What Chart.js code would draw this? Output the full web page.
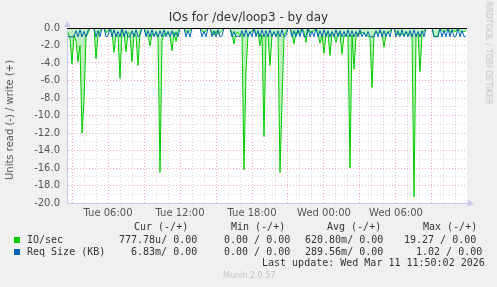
<!DOCTYPE html>
<html>
<head>
<meta charset="utf-8">
<script src="https://cdn.jsdelivr.net/npm/chart.js@4"></script>
<style>
body { margin:0; background:#f0f0f0; }
#wrap { position:relative; width:497px; height:287px; font-family:"DejaVu Sans", sans-serif; }
#wrap canvas { position:absolute; left:0; top:0; }
.t { position:absolute; white-space:pre; line-height:1; }
.mono { font-family:"DejaVu Sans Mono", monospace; font-size:10px; color:#333; }
.sq { position:absolute; width:6px; height:6px; }
</style>
</head>
<body>
<div id="wrap">
  <canvas id="myChart" width="497" height="287"></canvas>
  <div class="t" style="left:0;width:497px;text-align:center;top:11px;font-size:12px;color:#333;">IOs for /dev/loop3 - by day</div>
  <div class="t" style="left:10px;top:120px;font-size:10px;color:#555;transform:translate(-50%,-50%) rotate(-90deg);">Units read (-) / write (+)</div>
  <div class="t" style="left:488px;top:53px;font-size:8px;color:#c4c4c4;transform:translate(-50%,-50%) rotate(90deg);">RRDTOOL / TOBI OETIKER</div>

  <div class="t mono" style="left:134px;top:222px;">Cur (-/+)</div>
  <div class="t mono" style="left:231px;top:222px;">Min (-/+)</div>
  <div class="t mono" style="left:327px;top:222px;">Avg (-/+)</div>
  <div class="t mono" style="left:423px;top:222px;">Max (-/+)</div>

  <div class="sq" style="left:14px;top:237px;background:#00cc00;"></div>
  <div class="t mono" style="left:27px;top:235px;">IO/sec</div>
  <div class="t mono" style="left:119px;top:235px;">777.78u/ 0.00</div>
  <div class="t mono" style="left:224px;top:235px;">0.00 / 0.00</div>
  <div class="t mono" style="left:305px;top:235px;">620.80m/ 0.00</div>
  <div class="t mono" style="left:404px;top:235px;">19.27 / 0.00</div>

  <div class="sq" style="left:14px;top:249px;background:#0066b3;"></div>
  <div class="t mono" style="left:27px;top:247px;">Req Size (KB)</div>
  <div class="t mono" style="left:131px;top:247px;">6.83m/ 0.00</div>
  <div class="t mono" style="left:224px;top:247px;">0.00 / 0.00</div>
  <div class="t mono" style="left:305px;top:247px;">289.56m/ 0.00</div>
  <div class="t mono" style="left:410px;top:247px;"> 1.02 / 0.00</div>

  <div class="t mono" style="left:262px;top:258px;">Last update: Wed Mar 11 11:50:02 2026</div>
  <div class="t" style="left:223px;top:272px;font-size:8px;color:#c4c4c4;">Munin 2.0.57</div>
</div>
<script>
// time axis: hours counted from Tue 00:00, one sample every 10 minutes
let startHour = 2.667;
let stepHours = 1 / 6;
let xMin = 2.583, xMax = 35.917;
let tickHours = [6, 12, 18, 24, 30];
let tickLabels = ["Tue 06:00", "Tue 12:00", "Tue 18:00", "Wed 00:00", "Wed 06:00"];
let yTicks = [0, -2, -4, -6, -8, -10, -12, -14, -16, -18, -20];

// IO/sec (read side, plotted negative)
let ioRead = [
    0.5, 1.2, 4.1, 0.8, 1.5, 3.85, 2.0, 12.0, 8.4, 1.0,
    0.6, 0, 0, 0, 3.5, 0.8, 0.4, 0, 0, 0.5,
    0.4, 0, 0.5, 2.8, 0.7, 0.9, 5.75, 0.3, 0.6, 2.7,
    0.5, 0.8, 3.85, 0.6, 0.9, 4.3, 0.5, 0, 0, 0.6,
    0.9, 2.05, 0.7, 0.8, 0.6, 1.2, 16.5, 1.4, 0.8, 0.6,
    0.7, 0.9, 2.6, 0.5, 1.55, 0.4, 0, 0, 0, 0.5,
    0.4, 0.3, 0, 0, 0, 0, 0, 0.3, 0.5, 0.3,
    0, 0, 0.6, 0.8, 0.4, 0.7, 0.5, 0.3, 0, 0,
    0, 0, 0.7, 1.8, 0.6, 0.5, 0.9, 0.7, 16.2, 5.0,
    0.8, 0.6, 0.4, 0, 0.7, 0.5, 2.0, 0.8, 12.4, 0.9,
    0.7, 4.3, 0.8, 0.6, 0.9, 0.7, 16.5, 8.5, 0.8, 0.5,
    0, 0, 0.6, 1.8, 0.5, 0.7, 0.4, 0, 0.5, 1.65,
    0, 0.5, 0.4, 0.3, 0, 0.6, 1.75, 0.8, 2.9, 0.6,
    0.7, 3.15, 0.5, 0.8, 1.65, 0.6, 0.7, 3.0, 0.9, 0.8,
    0.9, 16.0, 0.8, 4.7, 0.9, 0.6, 0.7, 0.5, 0.6, 0.8,
    0.9, 1.2, 6.8, 0.7, 0.5, 0.6, 0.4, 0.6, 2.2, 0.7,
    0.5, 0.4, 0, 0, 0.5, 0.8, 0.6, 0.7, 0.9, 0.5,
    0.6, 0.8, 0.9, 19.27, 1.0, 0.7, 5.0, 0.6, 0.4, 0,
    0, 0, 0, 0.9, 1.0, 0.8, 0, 0.3, 0.4, 0.3,
    0, 0.5, 0.4, 0.3, 0.4, 0, 0.3, 0.5, 0.4, 0.3
];

// Req Size (KB) (read side, plotted negative)
let reqSize = [
    1.0, 1.0, 1.0, 1.0, 0.3, 1.0, 0.2, 1.0, 0.4, 1.0,
    0.3, 0, 0, 0, 1.0, 0.3, 1.0, 0, 0, 1.0,
    0.9, 0, 1.0, 0.2, 1.0, 0.4, 1.0, 0, 1.0, 0.3,
    1.0, 1.0, 0.3, 1.0, 0.2, 1.0, 0.8, 0, 0, 1.0,
    0.3, 1.0, 0.2, 1.0, 0.4, 1.0, 0.3, 1.0, 0.2, 1.0,
    0.4, 1.0, 0.3, 1.0, 0.5, 1.0, 0, 0, 0, 1.0,
    0.3, 1.0, 0, 0, 0, 0, 0, 1.0, 0.4, 1.0,
    0, 0, 1.0, 0.3, 1.0, 0.2, 1.0, 0.9, 0, 0,
    0, 0, 1.0, 0.4, 1.0, 0.9, 1.0, 0.3, 1.0, 0.2,
    1.0, 0.4, 1.0, 0, 1.0, 0.3, 1.0, 0.2, 1.0, 0.3,
    1.0, 0.2, 1.0, 0.4, 1.0, 0.3, 1.0, 0.2, 1.0, 0.9,
    0, 0, 1.0, 0.3, 1.0, 0.2, 1.0, 0, 1.0, 1.0,
    0, 1.0, 0.4, 1.0, 0, 1.0, 0.3, 1.0, 0.2, 1.0,
    0.3, 1.0, 0.4, 1.0, 0.2, 1.0, 0.3, 1.0, 0.4, 1.0,
    0.2, 1.0, 0.3, 1.0, 0.4, 1.0, 0.2, 1.0, 0.5, 1.0,
    0.4, 1.0, 1.0, 1.0, 0.3, 1.0, 0.2, 1.0, 0.3, 1.0,
    0.4, 1.0, 0, 0, 1.0, 0.3, 1.0, 0.2, 1.0, 0.4,
    1.0, 0.3, 1.0, 0.2, 1.0, 0.4, 1.0, 0.3, 1.0, 0,
    0, 0, 0, 1.0, 1.0, 1.0, 0, 1.0, 0.3, 1.0,
    0, 1.0, 0.2, 1.0, 0.9, 0, 1.0, 0.3, 1.0, 0.9
];

function toPoints(arr){
    return arr.map((v, i) => ({ x: startHour + i * stepHours, y: -v }));
}

let redGrid = "rgba(215,100,100,0.5)";
let grayGrid = "rgba(150,150,150,0.35)";
let axisColor = "#c8c8ee";

// white plot background, black zero rule, axis arrows
let muninPlugin = {
    id: "munin",
    beforeDraw(chart){
        let a = chart.chartArea, c = chart.ctx;
        c.save();
        c.fillStyle = "#ffffff";
        c.fillRect(a.left, a.top, a.right - a.left, a.bottom - a.top);
        c.restore();
    },
    afterDraw(chart){
        let a = chart.chartArea, c = chart.ctx;
        let y0 = Math.round(chart.scales.y.getPixelForValue(0)) + 0.5;
        c.save();
        c.strokeStyle = "#000";
        c.lineWidth = 1;
        c.beginPath();
        c.moveTo(a.left, y0);
        c.lineTo(a.right, y0);
        c.stroke();
        c.fillStyle = axisColor;
        c.beginPath();
        c.moveTo(a.left - 3, a.top - 1);
        c.lineTo(a.left + 3.5, a.top - 1);
        c.lineTo(a.left + 0.5, a.top - 7);
        c.fill();
        c.beginPath();
        c.moveTo(a.right + 1, a.bottom - 3);
        c.lineTo(a.right + 1, a.bottom + 3.5);
        c.lineTo(a.right + 7, a.bottom + 0.5);
        c.fill();
        c.restore();
    }
};

new Chart("myChart", {
    type: "line",
    data: {
        datasets: [{
            label: "IO/sec",
            data: toPoints(ioRead),
            borderColor: "#00cc00",
            backgroundColor: "rgba(0,204,0,0.25)",
            fill: "origin",
            borderWidth: 1,
            pointRadius: 0,
            tension: 0,
            order: 1
        }, {
            label: "Req Size (KB)",
            data: toPoints(reqSize),
            borderColor: "#0066b3",
            fill: false,
            borderWidth: 1,
            pointRadius: 0,
            tension: 0,
            order: 0
        }]
    },
    options: {
        responsive: false,
        animation: false,
        layout: { padding: { top: 28, right: 30, left: 0, bottom: 0 } },
        plugins: {
            legend: { display: false },
            tooltip: { enabled: false },
            title: { display: false }
        },
        scales: {
            x: {
                type: "linear",
                min: xMin,
                max: xMax,
                afterBuildTicks: (s) => {
                    let t = [];
                    for (let h = Math.ceil(xMin); h <= Math.floor(xMax); h++) t.push({ value: h });
                    s.ticks = t;
                },
                afterFit: (s) => { s.height = 84; },
                ticks: {
                    autoSkip: false,
                    maxRotation: 0,
                    padding: 4,
                    color: "#555",
                    font: { family: "DejaVu Sans", size: 10 },
                    callback: (v) => {
                        let k = tickHours.indexOf(v);
                        return k >= 0 ? tickLabels[k] : "";
                    }
                },
                grid: {
                    drawTicks: false,
                    color: (ctx) => (ctx.tick && ctx.tick.value % 3 === 0) ? redGrid : grayGrid
                },
                border: { color: axisColor, dash: [1, 2] }
            },
            y: {
                min: -20,
                max: 0,
                afterFit: (s) => { s.width = 67; },
                ticks: {
                    stepSize: 1,
                    autoSkip: false,
                    padding: 7,
                    color: "#555",
                    font: { family: "DejaVu Sans", size: 10 },
                    callback: (v) => yTicks.indexOf(v) >= 0 ? v.toFixed(1) : ""
                },
                grid: {
                    drawTicks: false,
                    color: (ctx) => (ctx.tick && ctx.tick.value % 2 === 0) ? redGrid : grayGrid
                },
                border: { color: axisColor, dash: [1, 2] }
            }
        }
    },
    plugins: [muninPlugin]
});
</script>
</body>
</html>
